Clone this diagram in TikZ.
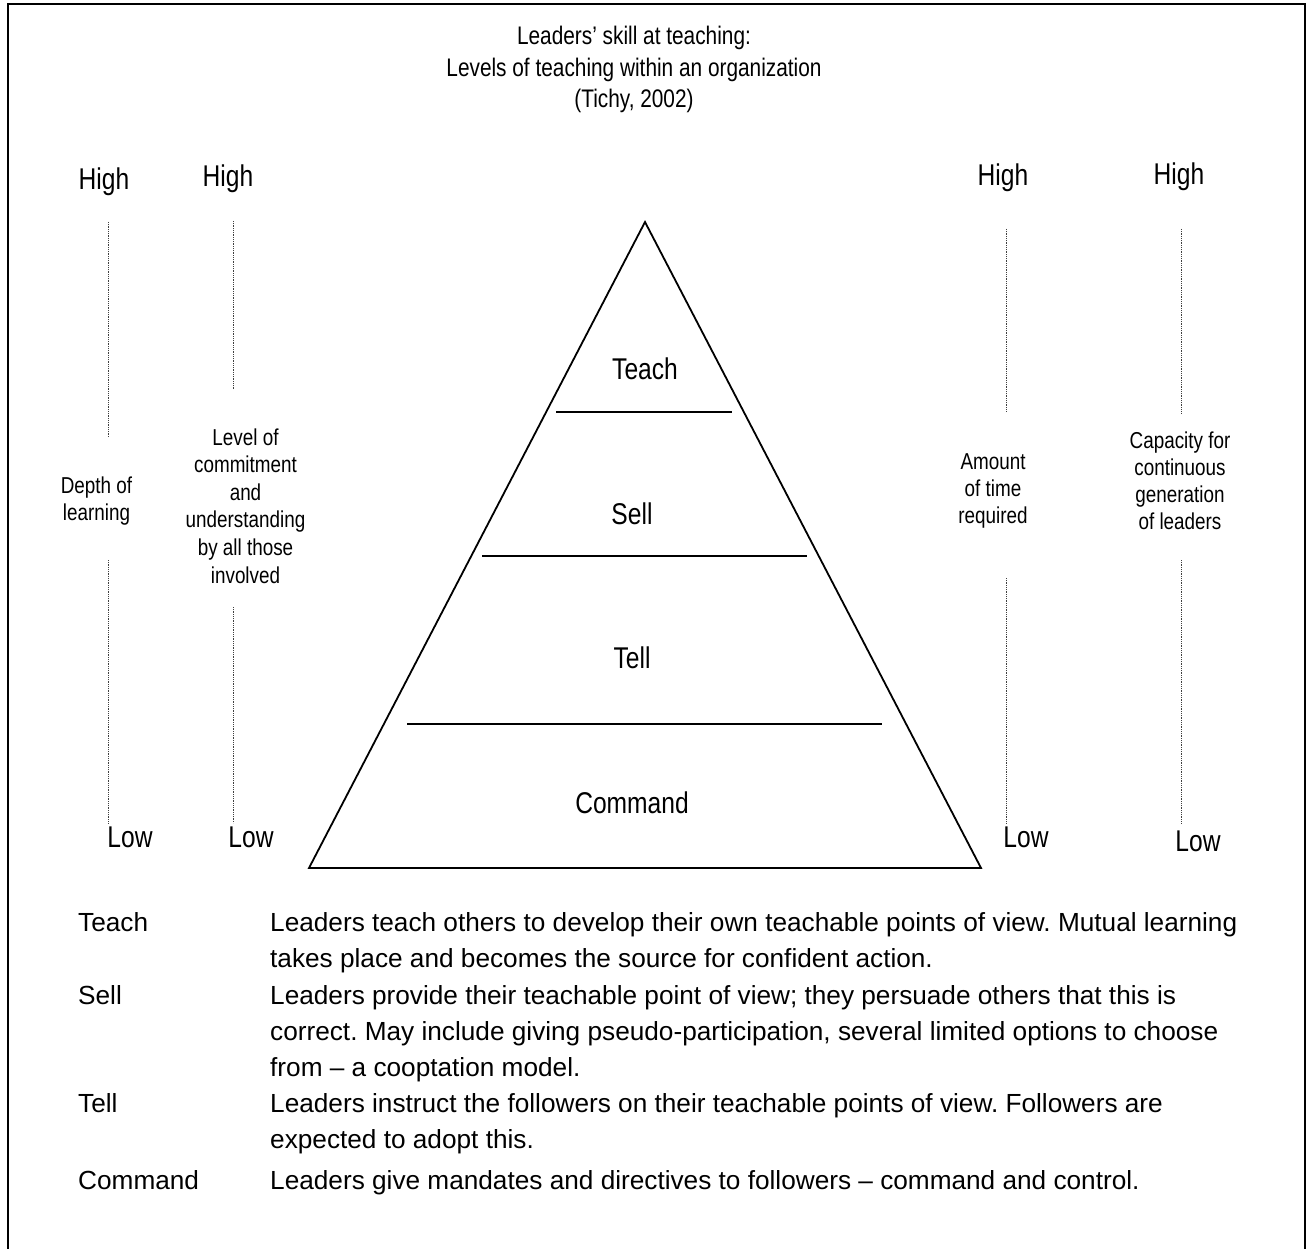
\documentclass[tikz,border=0pt]{standalone}
\usepackage{fontspec}
\setmainfont{Liberation Sans}
\newfontfamily\narrow[FakeStretch=0.82]{Liberation Sans}
\frenchspacing
\begin{document}
\begin{tikzpicture}[x=1pt,y=-1pt,
  every node/.style={inner sep=0pt},
  ttl/.style={font=\narrow\fontsize{25.4}{30}\selectfont, anchor=base},
  scale label/.style={font=\narrow\fontsize{30}{36}\selectfont, anchor=base},
  level/.style={font=\narrow\fontsize{30}{36}\selectfont, anchor=base},
  side/.style={font=\narrow\fontsize{23}{27.5}\selectfont, anchor=base},
  body/.style={font=\fontsize{26.2}{36}\selectfont, anchor=base west},
  dots/.style={draw=black!75, line width=0.9pt, dash pattern=on 0.9pt off 0.9pt},
  solid line/.style={draw=black, line width=1.8pt}]
\useasboundingbox (0,0) rectangle (1309,1249);
\fill[white] (0,0) rectangle (1309,1249);

% outer frame (its bottom edge lies below the page)
\draw[line width=1.4pt] (8,1260) -- (8,4) -- (1305,4) -- (1305,1260);

% title
\node[ttl] (t1) at (634,45) {Leaders’ skill at teaching:};
\node[ttl] (t2) at (634,77) {Levels of teaching within an organization};
\node[ttl] (t3) at (634,108) {(Tichy, 2002)};

% pyramid
\coordinate (apex) at (645,222);
\coordinate (bl) at (309,868);
\coordinate (br) at (981,868);
\draw[solid line, line join=miter] (apex) -- (bl) -- (br) -- cycle;
\coordinate (d1a) at (556,412); \coordinate (d1b) at (732,412);
\coordinate (d2a) at (482,556); \coordinate (d2b) at (807,556);
\coordinate (d3a) at (407,724); \coordinate (d3b) at (882,724);
\draw[solid line] (d1a) -- (d1b);
\draw[solid line] (d2a) -- (d2b);
\draw[solid line] (d3a) -- (d3b);
\node[level] (teach) at (645,379) {Teach};
\node[level] (sell) at (632,524) {Sell};
\node[level] (tell) at (632,668) {Tell};
\node[level] (command) at (632,813) {Command};

% scale markers
\node[scale label] (h1) at (104,190) {High};
\node[scale label] (h2) at (228,187) {High};
\node[scale label] (h3) at (1003,186) {High};
\node[scale label] (h4) at (1179,185) {High};
\node[scale label] (l1) at (130,847) {Low};
\node[scale label] (l2) at (251,847) {Low};
\node[scale label] (l3) at (1026,847) {Low};
\node[scale label] (l4) at (1198,851) {Low};

% dotted scale lines
\draw[dots] (108,222) -- (108,437);  \draw[dots] (108,560) -- (108,823);
\draw[dots] (233,221) -- (233,390);  \draw[dots] (233,607) -- (233,823);
\draw[dots] (1006,229) -- (1006,412); \draw[dots] (1006,578) -- (1006,823);
\draw[dots] (1181,229) -- (1181,414); \draw[dots] (1181,560) -- (1181,823);

% scale captions
\foreach \t [count=\i] in {Depth of, learning}
  \node[side] (dl\i) at (96.5,{493+27*(\i-1)}) {\t};
\foreach \t [count=\i] in {Level of, commitment, and, understanding, by all those, involved}
  \node[side] (lc\i) at (245.5,{445+27.6*(\i-1)}) {\t};
\foreach \t [count=\i] in {Amount, of time, required}
  \node[side] (at\i) at (993,{469+27*(\i-1)}) {\t};
\foreach \t [count=\i] in {Capacity for, continuous, generation, of leaders}
  \node[side] (cg\i) at (1180,{448+27.3*(\i-1)}) {\t};

% legend
\node[body] (k1) at (78,931) {Teach};
\node[body] (k2) at (78,1004) {Sell};
\node[body] (k3) at (78,1112) {Tell};
\node[body] (k4) at (78,1189) {Command};
\node[body] (e1a) at (270,931) {Leaders teach others to develop their own teachable points of view. Mutual learning};
\node[body] (e1b) at (270,967) {takes place and becomes the source for confident action.};
\node[body] (e2a) at (270,1004) {Leaders provide their teachable point of view; they persuade others that this is};
\node[body] (e2b) at (270,1040) {correct. May include giving pseudo-participation, several limited options to choose};
\node[body] (e2c) at (270,1076) {from – a cooptation model.};
\node[body] (e3a) at (270,1112) {Leaders instruct the followers on their teachable points of view. Followers are};
\node[body] (e3b) at (270,1148) {expected to adopt this.};
\node[body] (e4a) at (270,1189) {Leaders give mandates and directives to followers – command and control.};
\end{tikzpicture}
\end{document}
